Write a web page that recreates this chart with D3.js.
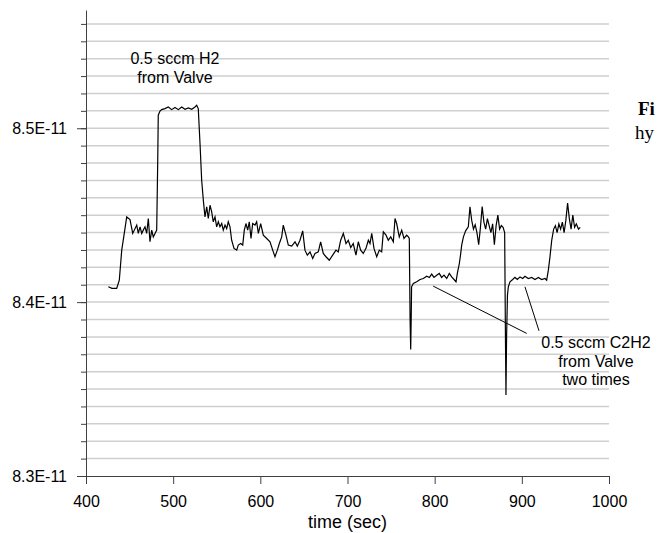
<!DOCTYPE html>
<html>
<head>
<meta charset="utf-8">
<script src="https://cdn.jsdelivr.net/npm/d3@7"></script>
<style>
  body { margin: 0; background: #fff; }
  .axis text { font-family: "Liberation Sans", Arial, sans-serif; font-size: 16px; fill: #000; }
  .axis path, .axis line { stroke: #404040; }
</style>
</head>
<body>
<div id="chart"></div>
<script>
// time in seconds and signal in units of 1E-11
var timeSec = [425.6, 429.8, 435.2, 438.2, 441.0, 443.6, 446.7, 450.5, 453.6, 458.2, 460.0, 462.0, 463.9, 465.7, 467.7, 469.6, 471.5, 473.4, 475.4, 477.2, 479.2, 481.1,
  482.3, 482.9, 484.9, 486.8, 490.6, 494.4, 498.3, 502.1, 505.9, 509.8, 513.6, 517.4, 521.3, 525.0, 527.0, 528.8,
  530.8, 532.7, 534.6, 536.5, 538.5, 540.3, 542.3, 544.2, 546.0, 548.0, 549.9, 551.8, 553.7, 555.7, 557.5, 559.5, 561.4, 563.2, 565.2, 567.1, 569.8, 572.9, 574.7, 577.5, 579.8,
  581.6, 583.5, 585.5, 587.3, 589.3, 591.2, 593.9, 595.8, 597.7, 600.4, 603.4, 607.3, 611.1, 614.2, 616.8, 619.5, 621.8, 624.5, 626.3, 629.4, 632.1, 636.0, 639.8, 642.4, 645.5,
  648.6, 651.2, 653.9, 657.0, 660.1, 662.7, 666.5, 669.2, 672.2, 675.3, 679.1, 683.0, 686.8, 689.4, 692.2, 695.2, 698.3, 700.9, 703.7, 706.6, 709.7, 712.4, 715.1, 718.1,
  721.2, 723.9, 725.8, 727.8, 730.4, 733.5, 736.5, 739.2, 741.1, 744.2, 746.8, 749.6, 752.6, 754.5, 756.4, 759.4, 762.2, 764.8, 767.9, 769.8, 770.9,
  771.8, 772.5, 773.2, 773.5, 775.5, 779.4, 783.2, 787.0, 790.9, 793.9, 796.6, 799.2, 802.3, 805.3, 808.0, 810.7, 813.8, 816.8, 819.5, 822.2, 824.5, 826.0, 828.3, 829.9, 831.0,
  833.0, 835.5, 838.6, 840.5, 842.5, 844.5, 846.5, 848.5, 850.5, 852.5, 854.5, 856.5, 858.5, 860.5, 862.5, 864.5, 866.5, 868.5, 870.5, 872.5, 874.5, 876.5, 878.5, 880.3,
  881.2, 881.8, 882.5, 883.5, 884.5, 886.4, 889.5, 892.1, 894.8, 897.9, 901.0, 903.6, 907.4, 911.3, 915.1, 918.9, 922.8, 926.6, 928.5, 930.4, 932.3, 934.3,
  936.5, 938.5, 940.5, 942.5, 944.5, 946.5, 948.5, 950.5, 952.5, 954.5, 956.5, 958.5, 960.5, 962.5, 965.0, 967.0];

var signal = [8.4088, 8.4079, 8.4079, 8.4126, 8.4299, 8.4385, 8.4490, 8.4475, 8.4395, 8.4443, 8.4395, 8.4433, 8.4395, 8.4414, 8.4433, 8.4395, 8.4481, 8.4347, 8.4414, 8.4375, 8.4395, 8.4414,
  8.4816, 8.5075, 8.5099, 8.5107, 8.5113, 8.5122, 8.5107, 8.5119, 8.5107, 8.5122, 8.5109, 8.5117, 8.5109, 8.5122, 8.5132, 8.5113,
  8.4912, 8.4701, 8.4586, 8.4490, 8.4548, 8.4481, 8.4557, 8.4519, 8.4462, 8.4490, 8.4433, 8.4462, 8.4433, 8.4452, 8.4414, 8.4443, 8.4423, 8.4462, 8.4433, 8.4356, 8.4309, 8.4299, 8.4328, 8.4337, 8.4328,
  8.4414, 8.4452, 8.4414, 8.4462, 8.4366, 8.4452, 8.4443, 8.4462, 8.4395, 8.4452, 8.4385, 8.4366, 8.4347, 8.4299, 8.4261, 8.4299, 8.4337, 8.4375, 8.4443, 8.4385, 8.4328, 8.4322, 8.4347, 8.4322, 8.4356,
  8.4410, 8.4299, 8.4270, 8.4289, 8.4251, 8.4280, 8.4289, 8.4347, 8.4280, 8.4261, 8.4241, 8.4270, 8.4299, 8.4289, 8.4356, 8.4395, 8.4337, 8.4356, 8.4314, 8.4337, 8.4270, 8.4347, 8.4299, 8.4280,
  8.4309, 8.4356, 8.4337, 8.4395, 8.4309, 8.4261, 8.4299, 8.4289, 8.4404, 8.4385, 8.4356, 8.4375, 8.4347, 8.4481, 8.4452, 8.4375, 8.4414, 8.4366, 8.4385, 8.4375, 8.4366,
  8.3900, 8.3728, 8.3950, 8.4088, 8.4107, 8.4117, 8.4130, 8.4136, 8.4149, 8.4142, 8.4161, 8.4142, 8.4155, 8.4165, 8.4142, 8.4155, 8.4136, 8.4165, 8.4145, 8.4130, 8.4117, 8.4165, 8.4222, 8.4280, 8.4328,
  8.4375, 8.4410, 8.4433, 8.4548, 8.4470, 8.4420, 8.4445, 8.4400, 8.4330, 8.4430, 8.4550, 8.4460, 8.4420, 8.4480, 8.4440, 8.4400, 8.4450, 8.4330, 8.4440, 8.4500, 8.4420, 8.4440, 8.4430, 8.4400,
  8.3800, 8.3466, 8.3800, 8.4040, 8.4088, 8.4117, 8.4130, 8.4142, 8.4130, 8.4145, 8.4136, 8.4149, 8.4136, 8.4142, 8.4130, 8.4142, 8.4130, 8.4136, 8.4126, 8.4184, 8.4261, 8.4356,
  8.4420, 8.4440, 8.4400, 8.4450, 8.4420, 8.4460, 8.4400, 8.4470, 8.4570, 8.4480, 8.4420, 8.4500, 8.4430, 8.4450, 8.4420, 8.4430];

var xTicks = [400, 500, 600, 700, 800, 900, 1000];
var yMajorTicks = [8.3, 8.4, 8.5];

// annotation texts, anchored in data units
var h2Label = ["0.5 sccm H2", "from Valve"];
var h2LabelPos = [502, 8.5368, 8.5262];
var c2h2Label = ["0.5 sccm C2H2", "from Valve", "two times"];
var c2h2LabelPos = [985, 8.3735, 8.3629, 8.3523];
// leader lines: [t1, v1, t2, v2]
var leaders = [[798.3, 8.4092, 905.6, 8.3820], [903.6, 8.4088, 919.7, 8.3835]];

var w = 658;
var h = 533;
var svg = d3.select("#chart").append("svg").attr("width", w).attr("height", h);

var xScale = d3.scaleLinear().domain([400, 1000]).range([86, 609]);
var yScale = d3.scaleLinear().domain([8.3, 8.568]).range([476, 10]);

// minor grid every 0.01
var minorTicks = d3.range(1, 27).map(function(i) { return +(8.3 + i * 0.01).toFixed(2); });
svg.append("g").selectAll("line").data(minorTicks).enter().append("line")
  .attr("x1", xScale(400)).attr("x2", xScale(1000))
  .attr("y1", function(d) { return yScale(d); })
  .attr("y2", function(d) { return yScale(d); })
  .style("stroke", "#cfcfcf").style("stroke-width", 1.5);

// minor ticks on y axis
svg.append("g").attr("class", "axis").attr("transform", "translate(86,0)")
  .call(d3.axisLeft(yScale).tickValues(minorTicks).tickSize(5).tickFormat(""))
  .select(".domain").remove();

// y axis with the labelled ticks
var yAxis = d3.axisLeft(yScale).tickValues(yMajorTicks).tickSize(9).tickSizeOuter(0).tickPadding(10)
  .tickFormat(function(d) { return d.toFixed(1) + "E-11"; });
svg.append("g").attr("class", "axis").attr("transform", "translate(86,0)").call(yAxis);

// x axis
var xAxis = d3.axisBottom(xScale).tickValues(xTicks).tickSize(8).tickSizeOuter(0).tickFormat(d3.format("d"));
var gx = svg.append("g").attr("class", "axis").attr("transform", "translate(0,476)").call(xAxis);
gx.selectAll("text").attr("dy", null).attr("y", 31);

svg.append("text")
  .attr("x", (xScale(400) + xScale(1000)) / 2)
  .attr("y", 528)
  .attr("text-anchor", "middle")
  .style("font-family", "Liberation Sans, Arial, sans-serif")
  .style("font-size", "18px")
  .text("time (sec)");

// the signal trace
var dataset = timeSec.map(function(t, i) { return { t: t, v: signal[i] }; });
var line = d3.line()
  .x(function(d) { return xScale(d.t); })
  .y(function(d) { return yScale(d.v); });
svg.append("path").datum(dataset).attr("d", line)
  .style("fill", "none").style("stroke", "#000").style("stroke-width", 1.2);

// annotations
var h2Text = svg.append("text").attr("text-anchor", "middle")
  .style("font-family", "Liberation Sans, Arial, sans-serif").style("font-size", "16px");
h2Label.forEach(function(s, i) {
  h2Text.append("tspan").attr("x", xScale(h2LabelPos[0])).attr("y", yScale(h2LabelPos[i + 1])).text(s);
});

var c2Text = svg.append("text").attr("text-anchor", "middle")
  .style("font-family", "Liberation Sans, Arial, sans-serif").style("font-size", "16px");
c2h2Label.forEach(function(s, i) {
  c2Text.append("tspan").attr("x", xScale(c2h2LabelPos[0])).attr("y", yScale(c2h2LabelPos[i + 1])).text(s);
});

svg.append("g").selectAll("line").data(leaders).enter().append("line")
  .attr("x1", function(d) { return xScale(d[0]); })
  .attr("y1", function(d) { return yScale(d[1]); })
  .attr("x2", function(d) { return xScale(d[2]); })
  .attr("y2", function(d) { return yScale(d[3]); })
  .style("stroke", "#000").style("stroke-width", 1);

// cut-off caption text from the surrounding page
svg.append("text").attr("x", 638).attr("y", 115)
  .style("font-family", "Liberation Serif, Times New Roman, serif").style("font-size", "19px").style("font-weight", "bold")
  .text("Fi");
svg.append("text").attr("x", 635).attr("y", 139)
  .style("font-family", "Liberation Serif, Times New Roman, serif").style("font-size", "19px")
  .text("hy");
</script>
</body>
</html>
